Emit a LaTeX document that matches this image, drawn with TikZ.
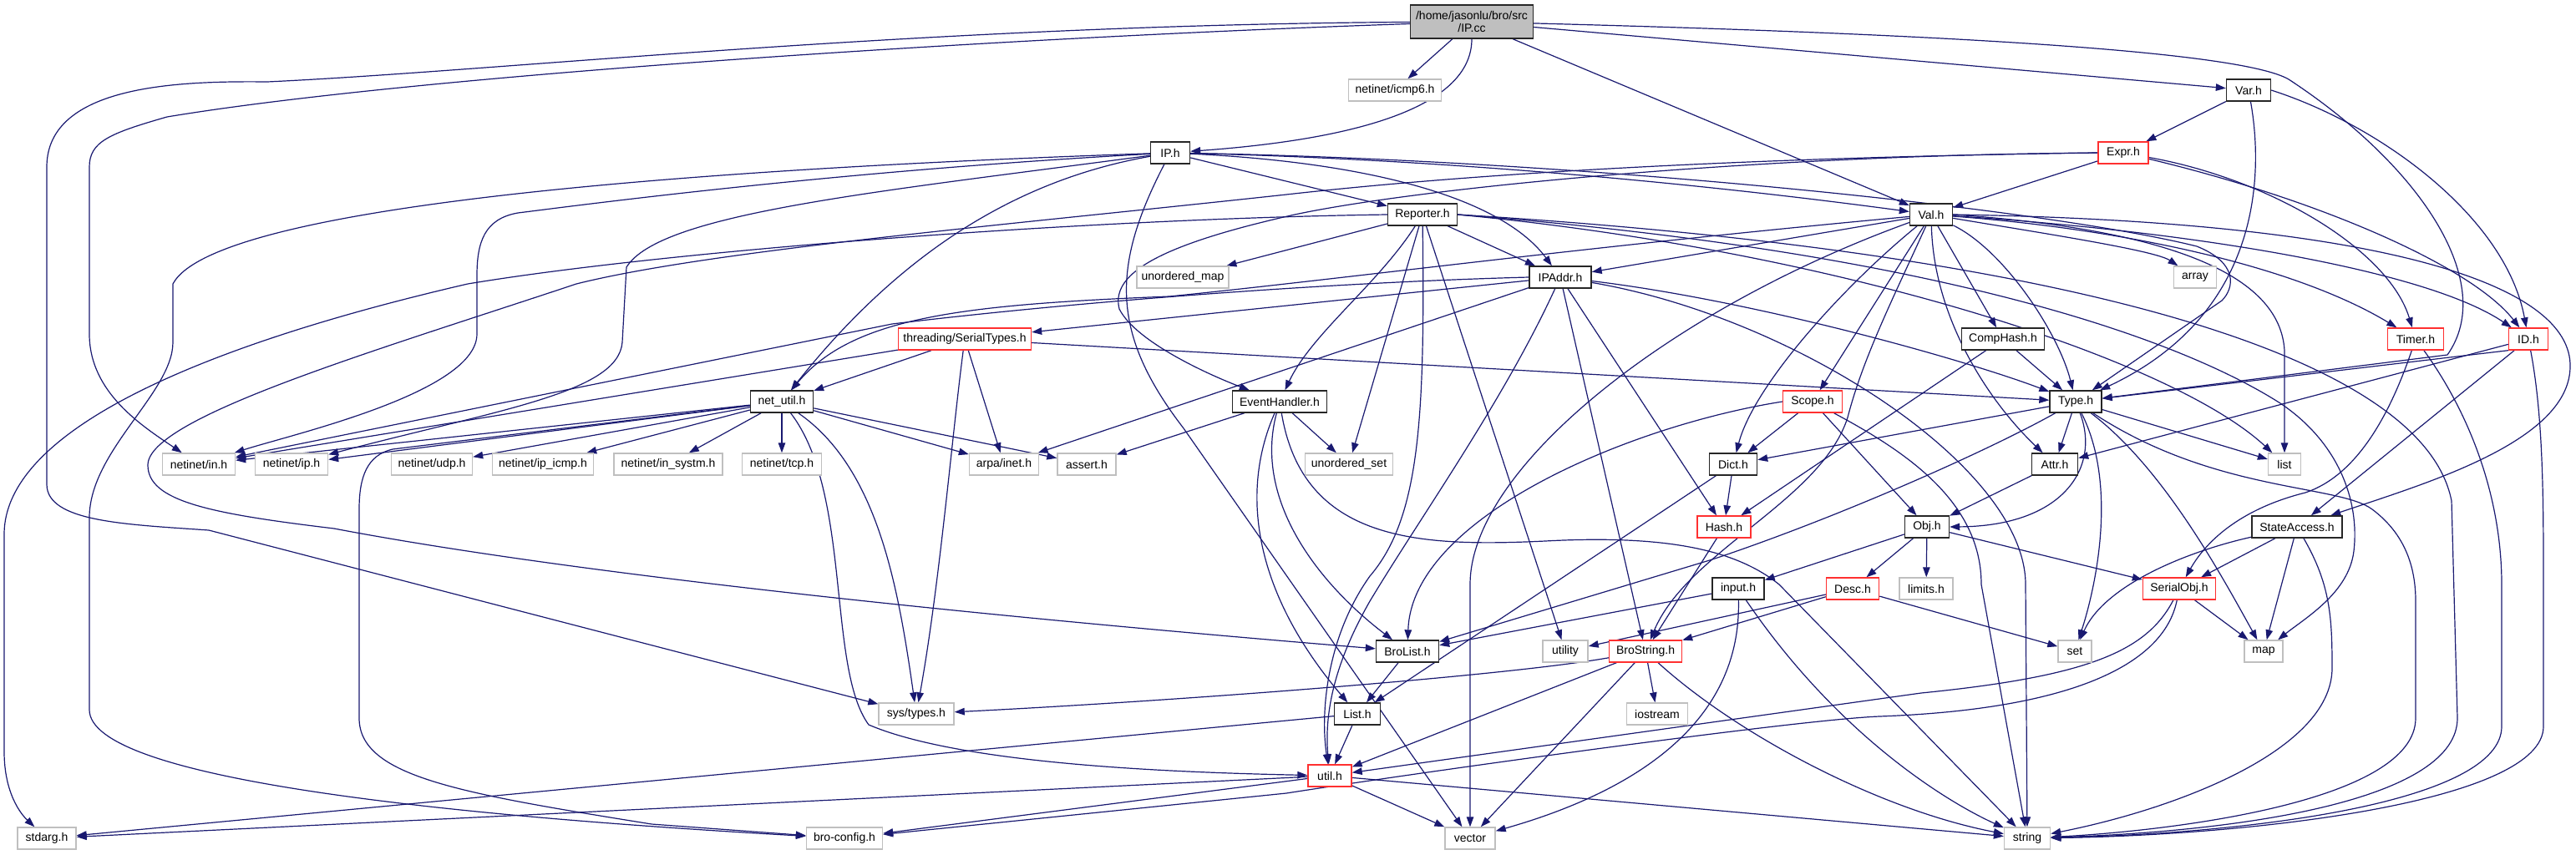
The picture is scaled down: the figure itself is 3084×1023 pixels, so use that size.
\documentclass[tikz,border=0pt]{standalone}
\usepackage{fontspec}
\setmainfont{Liberation Sans}
\usetikzlibrary{arrows.meta,backgrounds}
\definecolor{eb}{HTML}{191970}
\definecolor{rd}{HTML}{FF3030}
\definecolor{gr}{HTML}{BFBFBF}
\begin{document}
\begin{tikzpicture}[x=1pt,y=-1pt,
  nb/.style={rectangle, minimum height=26pt, inner xsep=3pt, inner ysep=0pt, font=\fontsize{14}{15}\selectfont, line width=1.4pt, fill=white},
  doc/.style={nb, draw=black!85},
  trunc/.style={nb, draw=rd},
  sys/.style={nb, draw=gr},
  conn/.style={draw=eb, line width=1.2pt, -{Triangle[length=12pt,width=8.5pt]}}]
\useasboundingbox (0,0) rectangle (3084,1023);

\node[doc, fill=gr, minimum height=40pt, minimum width=147pt, align=center] (IPcc) at (1762,26) {/home/jasonlu/bro/src\\/IP.cc};
\node[sys, minimum width=111pt] (icmp6) at (1670,108) {netinet/icmp6.h};
\node[doc, minimum width=47pt] (IPh) at (1401,183) {IP.h};
\node[doc, minimum width=53pt] (Varh) at (2692,108) {Var.h};
\node[trunc, minimum width=60pt] (Exprh) at (2542,183) {Expr.h};
\node[doc, minimum width=83pt] (Reporterh) at (1703,257) {Reporter.h};
\node[doc, minimum width=51pt] (Valh) at (2312,257) {Val.h};
\node[sys, minimum width=110pt] (umap) at (1416,332) {unordered\_map};
\node[doc, minimum width=74pt] (IPAddrh) at (1868,332) {IPAddr.h};
\node[sys, minimum width=51pt] (array) at (2628,332) {array};
\node[trunc, minimum width=159pt] (SerialTypes) at (1155,406) {threading/SerialTypes.h};
\node[doc, minimum width=99pt] (CompHash) at (2398,406) {CompHash.h};
\node[trunc, minimum width=67pt] (Timerh) at (2892,406) {Timer.h};
\node[trunc, minimum width=47pt] (IDh) at (3027,406) {ID.h};
\node[doc, minimum width=75pt] (netutil) at (936,481) {net\_util.h};
\node[doc, minimum width=113pt] (EventHandler) at (1532,481) {EventHandler.h};
\node[trunc, minimum width=71pt] (Scopeh) at (2170,481) {Scope.h};
\node[doc, minimum width=62pt] (Typeh) at (2485,481) {Type.h};
\node[sys, minimum width=87pt] (inh) at (238,556) {netinet/in.h};
\node[sys, minimum width=87pt] (iph) at (349,556) {netinet/ip.h};
\node[sys, minimum width=97pt] (udp) at (517,556) {netinet/udp.h};
\node[sys, minimum width=121pt] (ipicmp) at (650,556) {netinet/ip\_icmp.h};
\node[sys, minimum width=130pt] (insystm) at (800,556) {netinet/in\_systm.h};
\node[sys, minimum width=95pt] (tcp) at (936,556) {netinet/tcp.h};
\node[sys, minimum width=83pt] (arpainet) at (1202,556) {arpa/inet.h};
\node[sys, minimum width=70pt] (assert) at (1301,556) {assert.h};
\node[sys, minimum width=105pt] (uset) at (1615,556) {unordered\_set};
\node[doc, minimum width=57pt] (Dicth) at (2075,556) {Dict.h};
\node[doc, minimum width=55pt] (Attrh) at (2460,556) {Attr.h};
\node[sys, minimum width=39pt] (list) at (2735,556) {list};
\node[trunc, minimum width=64pt] (Hashh) at (2064,631) {Hash.h};
\node[doc, minimum width=53pt] (Objh) at (2307,631) {Obj.h};
\node[doc, minimum width=108pt] (StateAccess) at (2750,631) {StateAccess.h};
\node[doc, minimum width=62pt] (inputh) at (2081,705) {input.h};
\node[trunc, minimum width=63pt] (Desch) at (2218,705) {Desc.h};
\node[sys, minimum width=64pt] (limits) at (2306,705) {limits.h};
\node[trunc, minimum width=87pt] (SerialObj) at (2609,705) {SerialObj.h};
\node[doc, minimum width=75pt] (BroList) at (1685,780) {BroList.h};
\node[sys, minimum width=54pt] (utility) at (1874,780) {utility};
\node[trunc, minimum width=87pt] (BroString) at (1970,780) {BroString.h};
\node[sys, minimum width=40pt] (set) at (2484,780) {set};
\node[sys, minimum width=46pt] (map) at (2710,780) {map};
\node[doc, minimum width=55pt] (Listh) at (1625,855) {List.h};
\node[sys, minimum width=90pt] (systypes) at (1097,855) {sys/types.h};
\node[sys, minimum width=73pt] (iostream) at (1984,855) {iostream};
\node[trunc, minimum width=52pt] (utilh) at (1592,929) {util.h};
\node[sys, minimum width=70pt] (stdarg) at (56,1004) {stdarg.h};
\node[sys, minimum width=91pt] (broconfig) at (1011,1004) {bro-config.h};
\node[sys, minimum width=60pt] (vector) at (1760,1004) {vector};
\node[sys, minimum width=55pt] (string) at (2427,1004) {string};

\begin{pgfonlayer}{background}
% IP.cc
\draw[conn] (IPcc) -- (icmp6);
\draw[conn] (IPcc) .. controls (1762,120) and (1650,165) .. (IPh);
\draw[conn] (IPcc) -- (Valh);
\draw[conn] (IPcc) -- (Varh);
\draw[conn] (IPcc) .. controls (2300,40) and (2680,60) .. (2740,95) .. controls (2900,200) and (2990,340) .. (2930,425) -- (Typeh);
\draw[conn] (IPcc) .. controls (1200,45) and (500,90) .. (200,140) .. controls (130,160) and (107,170) .. (107,200) -- (107,400) .. controls (107,470) and (170,510) .. (inh);
\draw[conn] (IPcc) .. controls (1100,30) and (600,85) .. (320,98) .. controls (220,97) and (56,100) .. (56,200) -- (56,580) .. controls (56,625) and (150,628) .. (250,635) -- (systypes);
% IP.h
\draw[conn] (IPh) -- (Reporterh);
\draw[conn] (IPh) .. controls (1650,195) and (1800,240) .. (IPAddrh);
\draw[conn] (IPh) .. controls (1700,190) and (2000,215) .. (Valh);
\draw[conn] (IPh) .. controls (1900,192) and (2450,250) .. (2630,295) .. controls (2680,315) and (2675,345) .. (2660,360) -- (Typeh);
\draw[conn] (IPh) .. controls (1220,215) and (1080,300) .. (netutil);
\draw[conn] (IPh) .. controls (1330,320) and (1330,400) .. (1417,513) -- (vector);
\draw[conn] (IPh) .. controls (1000,205) and (700,245) .. (620,255) .. controls (580,262) and (571,290) .. (571,330) -- (571,400) .. controls (571,470) and (350,520) .. (inh);
\draw[conn] (IPh) .. controls (1050,230) and (790,255) .. (750,320) -- (745,410) .. controls (740,470) and (600,490) .. (iph);
\draw[conn] (IPh) .. controls (900,200) and (260,240) .. (207,340) -- (207,410) .. controls (207,470) and (107,540) .. (107,620) -- (107,850) .. controls (107,930) and (500,975) .. (broconfig);
% Var.h
\draw[conn] (Varh) -- (Exprh);
\draw[conn] (Varh) .. controls (2712,220) and (2700,380) .. (Typeh);
\draw[conn] (Varh.east) .. controls (2850,150) and (3000,260) .. (IDh);
% Expr.h
\draw[conn] (Exprh) -- (Valh);
\draw[conn] (Exprh) .. controls (2720,215) and (2860,300) .. (Timerh);
\draw[conn] (Exprh) .. controls (2780,240) and (2960,320) .. (IDh);
\draw[conn] (Exprh.west) .. controls (2100,186) and (1700,225) .. (1550,257) .. controls (1380,295) and (1330,330) .. (1340,370) .. controls (1360,410) and (1450,450) .. (EventHandler);
\draw[conn] (Exprh.west) .. controls (2000,190) and (1700,215) .. (1540,233) .. controls (1200,270) and (850,300) .. (690,340) .. controls (450,420) and (177,500) .. (177,557) .. controls (177,600) and (250,615) .. (400,633) .. controls (700,690) and (1200,740) .. (BroList);
% Reporter.h
\draw[conn] (Reporterh) -- (umap);
\draw[conn] (Reporterh) -- (IPAddrh);
\draw[conn] (Reporterh) .. controls (1650,340) and (1570,400) .. (EventHandler);
\draw[conn] (Reporterh) -- (uset);
\draw[conn] (Reporterh) .. controls (1706,500) and (1700,620) .. (1640,690) .. controls (1590,760) and (1580,850) .. (utilh);
\draw[conn] (Reporterh) -- (utility);
\draw[conn] (Reporterh.east) .. controls (2200,300) and (2600,430) .. (list);
\draw[conn] (Reporterh.east) .. controls (2300,300) and (2600,400) .. (2730,483) .. controls (2800,530) and (2825,600) .. (2818,660) .. controls (2812,710) and (2760,740) .. (map);
\draw[conn] (Reporterh.east) .. controls (2450,300) and (2900,420) .. (2935,600) -- (2942,860) .. controls (2942,955) and (2700,995) .. (string);
\draw[conn] (Reporterh.west) .. controls (1300,262) and (800,300) .. (560,340) .. controls (300,400) and (5,500) .. (5,640) -- (5,900) .. controls (5,950) and (25,975) .. (stdarg);
% Val.h
\draw[conn] (Valh) -- (IPAddrh);
\draw[conn] (Valh) .. controls (1900,295) and (1600,335) .. (1400,355) .. controls (1150,365) and (1020,380) .. (netutil);
\draw[conn] (Valh) .. controls (2450,280) and (2580,300) .. (array);
\draw[conn] (Valh) .. controls (2550,275) and (2750,320) .. (Timerh);
\draw[conn] (Valh) .. controls (2600,275) and (2900,320) .. (IDh);
\draw[conn] (Valh) -- (CompHash);
\draw[conn] (Valh) .. controls (2400,300) and (2465,400) .. (Typeh);
\draw[conn] (Valh) .. controls (2210,340) and (2100,460) .. (Dicth);
\draw[conn] (Valh) -- (Scopeh);
\draw[conn] (Valh) .. controls (2315,380) and (2380,480) .. (Attrh);
\draw[conn] (Valh.east) .. controls (2850,265) and (3080,340) .. (3077,440) .. controls (3075,530) and (2900,580) .. (StateAccess);
\draw[conn] (Valh) .. controls (2265,360) and (2230,430) .. (2212,500) .. controls (2180,600) and (2020,660) .. (BroString);
\draw[conn] (Valh) .. controls (2000,370) and (1760,560) .. (1760,700) -- (vector);
\draw[conn] (Valh.east) .. controls (2600,275) and (2730,330) .. (2735,420) -- (list);
% IPAddr.h
\draw[conn] (IPAddrh) -- (SerialTypes);
\draw[conn] (IPAddrh.west) .. controls (1600,338) and (1300,360) .. (1068,388) -- (inh);
\draw[conn] (IPAddrh) -- (arpainet);
\draw[conn] (IPAddrh) .. controls (1800,480) and (1700,620) .. (1640,720) .. controls (1600,790) and (1585,850) .. (utilh);
\draw[conn] (IPAddrh) -- (BroString);
\draw[conn] (IPAddrh) -- (Hashh);
\draw[conn] (IPAddrh) .. controls (2100,360) and (2350,430) .. (Typeh);
\draw[conn] (IPAddrh) .. controls (2150,380) and (2425,560) .. (2425,700) -- (string);
% SerialTypes
\draw[conn] (SerialTypes) -- (inh);
\draw[conn] (SerialTypes) -- (netutil);
\draw[conn] (SerialTypes) .. controls (1140,520) and (1125,700) .. (systypes);
\draw[conn] (SerialTypes) -- (arpainet);
\draw[conn] (SerialTypes) -- (Typeh);
% net_util.h
\draw[conn] (netutil) -- (inh);
\draw[conn] (netutil) -- (iph);
\draw[conn] (netutil) -- (udp);
\draw[conn] (netutil) -- (ipicmp);
\draw[conn] (netutil) -- (insystm);
\draw[conn] (netutil) -- (tcp);
\draw[conn] (netutil) -- (arpainet);
\draw[conn] (netutil) -- (assert);
\draw[conn] (netutil) .. controls (1050,560) and (1075,700) .. (systypes);
\draw[conn] (netutil) .. controls (1020,590) and (990,800) .. (1040,868) .. controls (1150,915) and (1400,925) .. (utilh);
\draw[conn] (netutil) -- (470,538) .. controls (440,545) and (430,570) .. (430,610) -- (430,860) .. controls (430,930) and (550,950) .. (780,987) -- (broconfig);
% EventHandler.h
\draw[conn] (EventHandler) -- (assert);
\draw[conn] (EventHandler) -- (uset);
\draw[conn] (EventHandler) .. controls (1500,600) and (1580,700) .. (BroList);
\draw[conn] (EventHandler) .. controls (1480,600) and (1510,720) .. (Listh);
\draw[conn] (EventHandler) .. controls (1560,650) and (1700,655) .. (1850,648) .. controls (2000,640) and (2080,660) .. (2130,700) -- (string);
% Scope.h
\draw[conn] (Scopeh) -- (Dicth);
\draw[conn] (Scopeh) -- (Objh);
\draw[conn] (Scopeh.west) .. controls (1950,510) and (1690,620) .. (BroList);
\draw[conn] (Scopeh) .. controls (2280,540) and (2372,600) .. (2372,700) -- (string);
% Dict, Hash, CompHash
\draw[conn] (Dicth) -- (Hashh);
\draw[conn] (Dicth) -- (Listh);
\draw[conn] (Hashh) -- (BroString);
\draw[conn] (CompHash) -- (Typeh);
\draw[conn] (CompHash) -- (Hashh);
% Type.h
\draw[conn] (Typeh) -- (Attrh);
\draw[conn] (Typeh) .. controls (2515,560) and (2470,630) .. (Objh.east);
\draw[conn] (Typeh) -- (list);
\draw[conn] (Typeh) .. controls (2535,580) and (2510,700) .. (set);
\draw[conn] (Typeh) .. controls (2590,560) and (2660,690) .. (map);
\draw[conn] (Typeh) .. controls (2650,590) and (2800,580) .. (2840,610) .. controls (2880,640) and (2892,680) .. (2892,720) -- (2892,860) .. controls (2892,960) and (2600,995) .. (string);
\draw[conn] (Typeh) -- (Dicth);
\draw[conn] (Typeh) .. controls (2380,540) and (2200,620) .. (2050,670) -- (BroList);
% Attr, Obj
\draw[conn] (Attrh) -- (Objh);
\draw[conn] (Objh) -- (inputh);
\draw[conn] (Objh) -- (Desch);
\draw[conn] (Objh) -- (limits);
\draw[conn] (Objh) -- (SerialObj);
% ID.h
\draw[conn] (IDh.south west) -- (Typeh);
\draw[conn] (IDh) -- (Attrh);
\draw[conn] (IDh) -- (StateAccess);
\draw[conn] (IDh) .. controls (3045,500) and (3045,600) .. (3045,700) -- (3045,870) .. controls (3045,960) and (2700,1000) .. (string);
% Timer.h
\draw[conn] (Timerh) .. controls (2860,500) and (2820,570) .. (2760,590) .. controls (2680,610) and (2640,650) .. (SerialObj);
\draw[conn] (Timerh) .. controls (2960,500) and (2995,600) .. (2995,700) -- (2995,870) .. controls (2995,960) and (2700,998) .. (string);
% StateAccess.h
\draw[conn] (StateAccess) .. controls (2620,660) and (2520,700) .. (set);
\draw[conn] (StateAccess) -- (SerialObj);
\draw[conn] (StateAccess) -- (map);
\draw[conn] (StateAccess) .. controls (2790,700) and (2792,740) .. (2792,800) .. controls (2792,900) and (2600,970) .. (string);
% input.h
\draw[conn] (inputh) -- (BroList);
\draw[conn] (inputh) .. controls (2085,870) and (1950,950) .. (vector);
\draw[conn] (inputh) .. controls (2200,880) and (2330,960) .. (string);
% Desc.h
\draw[conn] (Desch) -- (utility);
\draw[conn] (Desch) -- (BroString);
\draw[conn] (Desch) -- (set);
% SerialObj.h
\draw[conn] (SerialObj) -- (map);
\draw[conn] (SerialObj) .. controls (2570,780) and (2500,810) .. (2300,830) -- (utilh);
\draw[conn] (SerialObj) .. controls (2590,800) and (2470,850) .. (2250,858) .. controls (2150,862) and (1700,925) .. (1540,950) -- (broconfig);
% BroList, List
\draw[conn] (BroList) -- (Listh);
\draw[conn] (Listh) -- (utilh);
\draw[conn] (Listh) -- (stdarg);
% util.h
\draw[conn] (utilh) -- (stdarg);
\draw[conn] (utilh) -- (broconfig);
\draw[conn] (utilh) -- (vector);
\draw[conn] (utilh) -- (string);
% BroString.h
\draw[conn] (BroString) .. controls (1800,810) and (1400,840) .. (systypes);
\draw[conn] (BroString) -- (iostream);
\draw[conn] (BroString) -- (utilh);
\draw[conn] (BroString) -- (vector);
\draw[conn] (BroString) .. controls (2080,880) and (2250,970) .. (string);
\end{pgfonlayer}
\end{tikzpicture}
\end{document}
